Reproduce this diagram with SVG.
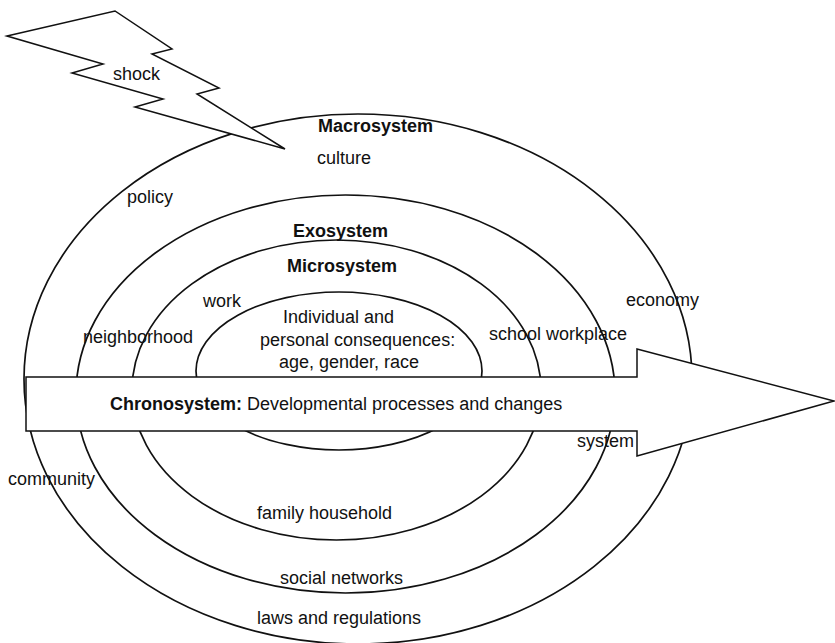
<svg xmlns="http://www.w3.org/2000/svg" width="835" height="643" viewBox="0 0 835 643">
<style>
.ring{fill:none;stroke:#111;stroke-width:1.7}
.shape{fill:#fff;stroke:#111;stroke-width:1.5;stroke-linejoin:miter}
.t{font-family:"Liberation Sans",Arial,Helvetica,sans-serif;font-size:18px;fill:#111}
.b{font-weight:bold}
</style>
<rect width="835" height="643" fill="#fff"/>
<g id="macrosystem">
<ellipse class="ring" cx="358" cy="379" rx="334" ry="265"/>
<text class="t b" x="318" y="132">Macrosystem</text>
<text class="t" x="317" y="164">culture</text>
<text class="t" x="127" y="203">policy</text>
<text class="t" x="626" y="306">economy</text>
<text class="t" x="8" y="485">community</text>
<text class="t" x="257" y="624">laws and regulations</text>
</g>
<g id="exosystem">
<ellipse class="ring" cx="345.5" cy="394" rx="269.5" ry="199"/>
<text class="t b" x="293" y="237">Exosystem</text>
<text class="t" x="83" y="343">neighborhood</text>
<text class="t" x="280" y="584">social networks</text>
</g>
<g id="microsystem">
<ellipse class="ring" cx="336.5" cy="390" rx="204.5" ry="150"/>
<text class="t b" x="287" y="272">Microsystem</text>
<text class="t" x="203" y="307">work</text>
<text class="t" x="489" y="340">school workplace</text>
<text class="t" x="257" y="519">family household</text>
</g>
<g id="individual">
<ellipse class="ring" cx="339" cy="371" rx="143" ry="79"/>
<text class="t" x="283" y="323">Individual and</text>
<text class="t" x="260" y="346">personal consequences:</text>
<text class="t" x="279" y="368">age, gender, race</text>
</g>
<g id="chronosystem">
<polygon class="shape" points="26,377 637,377 637,349 834,401 637,456 637,431 26,431"/>
<text class="t" x="110" y="410"><tspan class="b">Chronosystem:</tspan> Developmental processes and changes</text>
<text class="t" x="577" y="447">system</text>
</g>
<g id="shock">
<polygon class="shape" points="7,36 115,11 172,49 152,54 219,88 197,94 285,149 135,107 163,99 72,73 103,64"/>
<text class="t" x="113" y="80">shock</text>
</g>
<g id="connectors"></g>
</svg>
